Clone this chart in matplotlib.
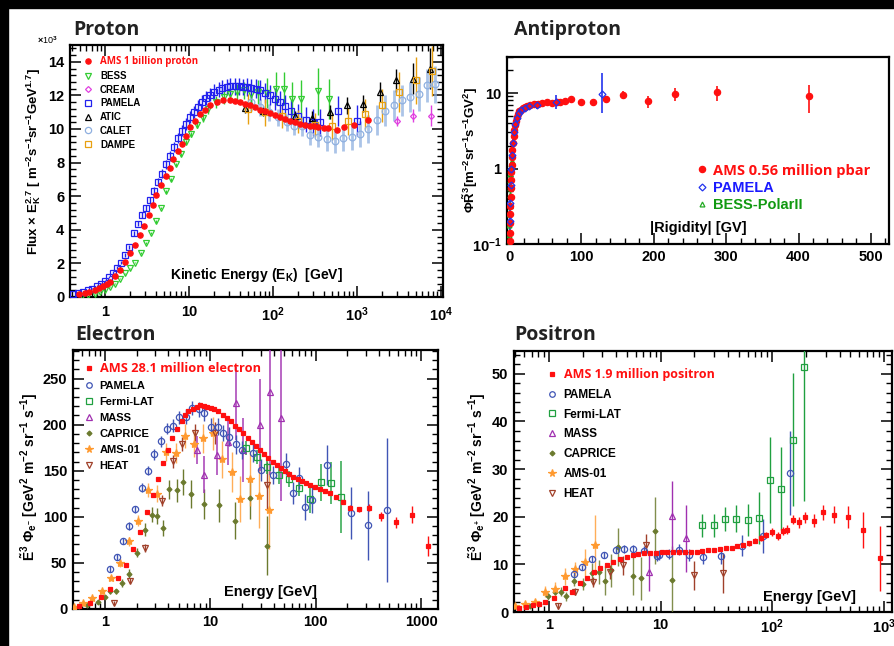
import matplotlib
matplotlib.use("Agg")
import matplotlib.pyplot as plt
from matplotlib.lines import Line2D
from matplotlib.patches import Rectangle
import matplotlib.ticker as mt

plt.rcParams['font.family'] = ['Liberation Sans', 'DejaVu Sans']
plt.rcParams['font.weight'] = 'bold'
plt.rcParams['mathtext.fontset'] = 'custom'
plt.rcParams['mathtext.rm'] = 'Liberation Sans:bold'
plt.rcParams['mathtext.it'] = 'Liberation Sans:bold:italic'
plt.rcParams['mathtext.bf'] = 'Liberation Sans:bold'

TITLE_FONT = ['Open Sans', 'DejaVu Sans']

# ---------------- Proton (flux x E^2.7, in units of 1e3) ----------------
p_ams_e = [0.49, 0.57, 0.65, 0.75, 0.85, 0.95, 1.05, 1.15, 1.3, 1.5, 1.73, 1.98, 2.27, 2.6, 2.94,
           3.37, 3.7, 4.1, 4.68, 5.27, 5.95, 6.5, 7.4, 8.2, 9.2, 10.3, 11.8, 13.5, 15.5, 17.8,
           21.3, 25.6, 30.6, 35, 40, 46, 53, 61, 70, 80, 92, 106, 121, 140, 160, 185, 210, 240,
           275, 310, 345, 400, 457, 570, 700, 920, 1370]
p_ams_v = [0.16, 0.22, 0.3, 0.42, 0.55, 0.68, 0.8, 0.92, 1.23, 1.6, 2.1, 2.6, 3.1, 3.7, 4.2,
           4.9, 5.5, 6.1, 6.67, 7.23, 7.7, 8.2, 8.7, 9.1, 9.6, 10.1, 10.5, 10.9, 11.15, 11.4,
           11.6, 11.7, 11.7, 11.68, 11.6, 11.5, 11.4, 11.28, 11.15, 11.05, 10.95, 10.82, 10.7,
           10.6, 10.5, 10.4, 10.3, 10.25, 10.2, 10.15, 10.1, 10.05, 10.05, 9.96, 10.1, 10.25, 10.55]

p_pam_e = [0.42, 0.48, 0.55, 0.62, 0.7, 0.8, 0.9, 1.0, 1.12, 1.25, 1.4, 1.56, 1.75, 1.95, 2.2,
           2.45, 2.75, 3.05, 3.4, 3.8, 4.25, 4.75, 5.3, 5.9, 6.6, 7.4, 8.2, 9.2, 10.3, 11.5, 12.9,
           14.4, 16.1, 18, 20, 22.5, 25, 28, 31, 35, 39, 44, 49, 55, 62, 70, 80, 92, 105, 120,
           140, 165, 200, 245, 300, 360, 600, 1000]
p_pam_v = [0.18, 0.24, 0.31, 0.4, 0.5, 0.65, 0.8, 0.95, 1.2, 1.45, 1.75, 2.05, 2.5, 3.0, 3.8,
           4.35, 4.9, 5.3, 5.75, 6.3, 6.85, 7.35, 7.9, 8.4, 8.95, 9.45, 9.9, 10.3, 10.7, 11.0,
           11.3, 11.6, 11.85, 12.05, 12.2, 12.35, 12.45, 12.5, 12.55, 12.55, 12.55, 12.5, 12.5,
           12.45, 12.4, 12.3, 12.15, 12.0, 11.8, 11.6, 11.35, 11.05, 10.8, 10.55, 10.4, 10.4,
           11.05, 10.5]
p_pam_err = [0.02, 0.02, 0.03, 0.03, 0.04, 0.05, 0.05, 0.06, 0.07, 0.08, 0.1, 0.1, 0.1, 0.12,
             0.15, 0.15, 0.17, 0.2, 0.2, 0.22, 0.25, 0.25, 0.27, 0.3, 0.3, 0.3, 0.32, 0.35, 0.35,
             0.35, 0.4, 0.4, 0.4, 0.4, 0.45, 0.45, 0.45, 0.45, 0.5, 0.5, 0.5, 0.5, 0.55, 0.55,
             0.55, 0.6, 0.6, 0.6, 0.65, 0.65, 0.7, 0.7, 0.7, 0.75, 0.8, 0.8, 0.9, 0.9]

p_bess_e = [0.53, 0.63, 0.75, 0.87, 1.0, 1.15, 1.32, 1.52, 1.75, 2.0, 2.3, 2.65, 3.05, 3.5, 4.0,
            4.6, 5.3, 6.1, 7.0, 8.0, 9.2, 10.6, 12.3, 14.5, 17, 21, 26, 31, 37, 45, 54, 66, 84,
            108, 136, 170, 215, 340, 460]
p_bess_v = [0.05, 0.12, 0.2, 0.3, 0.42, 0.6, 0.8, 1.1, 1.4, 1.7, 2.05, 2.6, 3.2, 3.8, 4.5, 5.3,
            6.3, 7.0, 7.9, 8.5, 9.2, 9.7, 10.25, 10.65, 11.2, 11.6, 11.9, 12.1, 12.2, 12.3, 12.1,
            12.2, 12.15, 12.4, 12.4, 11.8, 11.8, 12.25, 11.8]
p_bess_err = [0.02, 0.02, 0.02, 0.03, 0.03, 0.03, 0.04, 0.04, 0.05, 0.05, 0.05, 0.06, 0.06, 0.07,
              0.08, 0.08, 0.09, 0.1, 0.1, 0.1, 0.12, 0.15, 0.2, 0.25, 0.3, 0.35, 0.4, 0.4, 0.45,
              0.5, 0.6, 0.7, 0.9, 1.0, 1.0, 1.0, 1.1, 1.4, 1.2]

p_cream_e = [3000, 4700, 7600]
p_cream_v = [10.45, 10.8, 10.8]
p_cream_err = [0.3, 0.4, 0.6]

p_atic_e = [47, 76, 185, 295, 480, 755, 1190, 1880, 2950, 4650, 7300]
p_atic_v = [11.25, 11.05, 10.8, 10.65, 11.0, 11.4, 11.5, 12.2, 12.9, 13.0, 13.6]
p_atic_err = [0.3, 0.3, 0.3, 0.4, 0.4, 0.5, 0.5, 0.6, 0.7, 0.9, 1.2]

p_calet_e = [55, 70, 90, 115, 145, 180, 220, 275, 345, 435, 545, 685, 860, 1085, 1370, 1730,
             2170, 2720, 3400, 4300, 5400, 6800, 8500]
p_calet_v = [11.6, 11.3, 11.0, 10.7, 10.4, 10.2, 10.2, 9.65, 9.55, 9.4, 9.3, 9.45, 9.55, 9.7,
             10.0, 10.55, 11.1, 11.4, 11.7, 11.9, 12.1, 12.6, 12.65]
p_calet_err = [0.5, 0.5, 0.5, 0.5, 0.5, 0.55, 0.6, 0.6, 0.65, 0.7, 0.7, 0.75, 0.8, 0.8, 0.85,
               0.9, 0.9, 0.9, 0.9, 0.9, 1.0, 1.0, 1.1]

p_dampe_e = [50, 80, 127, 200, 315, 500, 790, 1260, 2000, 3160, 5000, 7900]
p_dampe_v = [11.2, 11.0, 10.75, 10.45, 10.25, 10.15, 10.45, 10.9, 11.4, 12.2, 12.9, 13.45]
p_dampe_err = [0.9, 0.8, 0.7, 0.7, 0.7, 0.8, 0.8, 0.9, 1.0, 1.2, 1.4, 1.5]

p_xticks = [1, 10, 100, 1000, 10000]
p_xlabels = ['1', '10', '$10^2$', '$10^3$', '$10^4$']

# ---------------- Antiproton ----------------
ap_ams_r = [1.1, 1.3, 1.5, 1.7, 1.9, 2.2, 2.5, 2.8, 3.2, 3.6, 4.1, 4.7, 5.4, 6.2, 7.1, 8.2, 9.4,
            10.8, 12.4, 14.3, 16.5, 19, 22, 25.5, 29.5, 34, 39.5, 45.5, 52.5, 60, 66, 71, 77, 86,
            99, 116, 134, 158, 192, 230, 287, 414]
ap_ams_v = [0.11, 0.14, 0.19, 0.25, 0.32, 0.42, 0.55, 0.7, 0.9, 1.1, 1.4, 1.75, 2.2, 2.7, 3.2,
            3.8, 4.3, 4.8, 5.3, 5.7, 6.0, 6.3, 6.6, 6.8, 7.0, 7.1, 7.2, 7.3, 7.5, 7.3, 7.6, 7.7,
            7.8, 8.3, 7.6, 7.6, 8.3, 9.5, 7.8, 9.7, 10.2, 9.1]
ap_ams_err = [0.01, 0.01, 0.02, 0.02, 0.02, 0.03, 0.03, 0.04, 0.05, 0.05, 0.06, 0.07, 0.08, 0.1,
              0.1, 0.12, 0.13, 0.14, 0.15, 0.15, 0.16, 0.17, 0.18, 0.2, 0.2, 0.22, 0.25, 0.3,
              0.3, 0.35, 0.4, 0.4, 0.45, 0.5, 0.5, 0.6, 0.9, 1.0, 1.4, 1.8, 2.3, 3.7]

ap_pam_r = [1.5, 2, 2.6, 3.3, 4.2, 5.3, 6.7, 8.5, 10.7, 13.5, 17, 22, 28, 38, 65, 129]
ap_pam_v = [0.2, 0.35, 0.6, 1.0, 1.5, 2.2, 3.0, 3.9, 4.7, 5.4, 5.9, 6.3, 6.7, 7.0, 7.5, 9.8]
ap_pam_lo = [0.05, 0.08, 0.1, 0.15, 0.2, 0.25, 0.3, 0.35, 0.4, 0.45, 0.5, 0.55, 0.6, 0.9, 1.3, 4.3]
ap_pam_hi = [0.05, 0.08, 0.1, 0.15, 0.2, 0.25, 0.3, 0.35, 0.4, 0.45, 0.5, 0.55, 0.6, 0.9, 1.9, 8.5]

ap_bess_r = [0.2, 0.3, 0.4, 0.55, 0.7, 0.9, 1.1, 1.4, 1.8, 2.3, 3.0, 3.8]
ap_bess_v = [0.1, 0.13, 0.18, 0.25, 0.33, 0.45, 0.55, 0.7, 0.85, 1.0, 1.15, 1.25]
ap_bess_err = [0.02, 0.02, 0.03, 0.04, 0.05, 0.06, 0.07, 0.08, 0.1, 0.12, 0.15, 0.18]

# ---------------- Electron ----------------
e_ams_e = [0.57, 0.72, 0.92, 1.12, 1.34, 1.6, 1.86, 2.15, 2.49, 2.84, 3.2, 3.57, 3.93, 4.35, 4.79,
           5.33, 5.74, 6.2, 6.8, 7.4, 7.97, 8.7, 9.35, 10.05, 10.8, 11.9, 13.1, 14.3, 15.7, 17.1,
           18.8, 20.5, 22.6, 24.8, 27.1, 29.7, 32.4, 35.5, 39, 42.6, 46.8, 51.4, 56.2, 61.5,
           67.5, 74, 81, 88.5, 99, 110, 122, 136, 155, 180, 211, 258, 320, 420, 575, 830, 1160]
e_ams_v = [3.6, 6.5, 12.7, 21.7, 33.7, 48, 65.6, 84, 105, 124, 141, 158, 173, 186, 195, 204, 210,
           215, 217, 219.5, 221, 220, 219.5, 218.5, 216.7, 214.5, 211, 207.6, 204, 199, 195,
           190.6, 186, 181.5, 176.8, 172, 167.8, 163.4, 159.4, 155.8, 152.5, 149.3, 146.4, 143.5,
           141.3, 139, 137, 135, 132.6, 129.7, 127.9, 126, 121.7, 116, 110, 108, 109.8, 100.7,
           94.2, 102.5, 68]
e_ams_err = [0.3, 0.4, 0.5, 0.6, 0.8, 1, 1, 1, 1.2, 1.2, 1.5, 1.5, 1.5, 1.5, 1.5, 1.5, 1.5,
             2, 2, 2, 2, 2, 2, 2, 2, 2, 2, 2, 2, 2, 2, 2, 2, 2, 2, 2, 2,
             2, 2, 2, 2, 2, 2, 2, 2, 2, 2, 2, 2, 2, 2,
             2.5, 2.5, 2.5, 3, 3, 4, 5, 6, 9, 11]

e_pam_e = [1.12, 1.29, 1.49, 1.7, 1.94, 2.23, 2.58, 2.92, 3.37, 3.85, 4.38, 5.07, 5.82, 6.69, 7.74,
           8.77, 10.05, 11.7, 13.2, 15.1, 17.5, 20.2, 25.6, 30.3, 39.6, 52, 60.5, 70, 80, 91.5,
           127, 215, 313, 480]
e_pam_v = [43.5, 56.5, 73.5, 90, 108, 131.5, 150, 168, 182, 195.6, 199, 208, 208.7, 218, 216.7,
           212.3, 198, 198, 191, 187, 178.6, 172.5, 169, 150.4, 145.3, 157.6, 126, 142.4, 110.5,
           118.8, 156, 104, 90.6, 107]
e_pam_err = [3, 3, 3, 4, 4, 5, 5, 6, 6, 6, 7, 7, 8, 8, 8, 8, 9, 9, 9, 10, 10, 10, 10, 12, 10, 12,
             12, 12, 14, 15, 22, 28, 37, 78]

e_fermi_e = [22, 27.5, 34.8, 45, 56, 70, 88, 112, 140, 175]
e_fermi_v = [174.6, 165, 154, 145, 141, 131.5, 119, 137.7, 137, 121.7]
e_fermi_err = [8, 8, 8, 9, 9, 9, 15, 20, 23, 39]

e_mass_e = [7.5, 8.8, 11.6, 14.8, 17.6, 20.4, 29.9, 37, 46.5]
e_mass_v = [172.5, 145.7, 167, 181.5, 223, 172.5, 200, 235.5, 207]
e_mass_err = [15, 20, 22, 25, 40, 35, 50, 90, 90]

e_cap_e = [0.57, 0.68, 0.85, 0.99, 1.12, 1.27, 1.44, 1.7, 2.03, 2.38, 2.77, 3.14, 3.53, 4.02,
           4.79, 5.47, 6.5, 8.7, 12.1, 17.1, 23.6, 34.2]
e_cap_v = [3, 4.3, 7.2, 12.7, 19.2, 19.2, 28.3, 38.4, 61, 86.2, 102.5, 100.7, 88, 129.7, 128.6,
           137.7, 125, 114, 112.7, 96, 120.3, 68.8]
e_cap_err = [1, 1, 1.5, 2, 3, 3, 4, 5, 5, 7, 8, 9, 9, 10, 12, 14, 15, 16, 18, 20, 23, 32]

e_ams01_e = [0.51, 0.62, 0.75, 0.93, 1.14, 1.39, 1.69, 2.07, 2.54, 3.14, 3.8, 4.69, 5.75, 7.0,
             8.6, 10.6, 12.9, 15.9, 19.3, 23.6, 28.7, 35.8]
e_ams01_v = [2, 6, 12, 19.2, 34, 50, 73.5, 96, 129, 125, 170.6, 169.6, 187.7, 179.3, 185, 190.6,
             162.3, 148.5, 119.6, 141.3, 122.5, 107.2]
e_ams01_err = [1, 1.5, 2, 2.5, 3, 4, 5, 6, 8, 9, 10, 11, 13, 14, 16, 18, 20, 22, 25, 30, 35, 42]

e_heat_e = [1.22, 1.73, 2.42, 3.45, 4.42, 5.42, 7.16, 11, 34.2]
e_heat_v = [6.2, 30.8, 66.3, 117.7, 160.5, 179, 191.3, 190.6, 134]
e_heat_err = [2, 3, 4, 6, 7, 8, 9, 12, 25]

e_xticks = [1, 10, 100, 1000]
e_xlabels = ['1', '10', '100', '1000']

# ---------------- Positron ----------------
ps_ams_e = [0.54, 0.62, 0.72, 0.82, 0.92, 1.12, 1.39, 1.61, 1.9, 2.2, 2.53, 2.86, 3.28, 3.77,
            4.33, 4.97, 5.61, 6.3, 7.1, 8.0, 9.1, 10.2, 11.5, 13.0, 14.7, 16.5, 18.6, 21, 23.6,
            26.7, 30, 34, 38.4, 43.3, 48.7, 55, 62, 70, 78.6, 88, 100, 113, 125, 136, 152, 172,
            198, 236, 286, 358, 474, 650, 925]
ps_ams_v = [0.77, 1.1, 1.4, 1.7, 2.0, 2.9, 5.0, 4.3, 6.1, 7.1, 8.3, 9.2, 9.8, 10.5, 11.1, 11.5,
            11.9, 12.2, 12.4, 12.4, 12.4, 12.5, 12.5, 12.5, 12.5, 12.5, 12.7, 12.7, 12.8, 13.0,
            13.1, 13.2, 13.4, 13.5, 13.8, 14.1, 14.4, 15.0, 15.5, 16.2, 16.8, 15.9, 17.0, 17.3,
            19.4, 18.8, 19.9, 19.2, 20.9, 20.4, 19.9, 17.2, 11.3]
ps_ams_err = [0.1, 0.1, 0.1, 0.1, 0.1, 0.15, 0.15, 0.15, 0.15, 0.2, 0.2, 0.2, 0.2, 0.2, 0.2,
              0.2, 0.2, 0.2, 0.2, 0.2, 0.2, 0.2, 0.2, 0.2, 0.25, 0.25, 0.25, 0.25, 0.3, 0.3,
              0.3, 0.3, 0.35, 0.35, 0.4, 0.4, 0.45, 0.5, 0.6, 0.7, 0.8, 0.8, 0.9, 1.0, 1.0,
              1.1, 1.2, 1.3, 1.5, 1.8, 2.3, 3.8, 6.8]

ps_pam_e = [1.67, 1.96, 2.41, 3.1, 3.95, 4.72, 5.6, 7.1, 9.2, 9.6, 11.8, 14.5, 17.8, 24.1, 35,
            53.5, 83, 145]
ps_pam_v = [8.05, 9.4, 11.1, 12, 13.1, 13.2, 13.2, 12.9, 11.8, 12, 12.2, 13.1, 12, 11.5, 11.8,
            13.9, 15.9, 29.2]
ps_pam_err = [0.4, 0.5, 0.6, 0.7, 0.8, 0.8, 0.9, 1.0, 1.0, 1.0, 1.1, 1.2, 1.3, 1.5, 1.8, 2.2,
              3.6, 8.8]

ps_fermi_e = [23.6, 30, 37.8, 47.4, 60, 76, 96, 120, 153, 194]
ps_fermi_v = [18.2, 18.2, 19.6, 19.6, 19.3, 19.8, 27.7, 25.9, 36.2, 51.4]
ps_fermi_err = [2.4, 2.4, 2.5, 2.9, 3.3, 5.5, 9, 8.7, 14, 28]

ps_mass_e = [7.8, 12.6, 16.7]
ps_mass_v = [8.5, 20.2, 15.5]
ps_mass_err = [4, 7.3, 7]

ps_cap_e = [0.68, 0.82, 0.97, 1.14, 1.27, 1.42, 1.67, 2.03, 2.44, 2.8, 3.2, 3.57, 4.12, 5.7,
            6.66, 8.9, 12.6]
ps_cap_v = [1.3, 1.75, 3.3, 4.3, 4.3, 3.3, 6.6, 5.9, 8.2, 8.4, 6.6, 8.75, 13.6, 7.5, 7.1, 17.1,
            6.8]
ps_cap_err = [0.4, 0.5, 0.7, 0.8, 0.9, 0.9, 1.2, 1.3, 2, 2.5, 3, 3.5, 4, 4, 4.5, 7, 7]

ps_ams01_e = [0.5, 0.61, 0.75, 0.93, 1.13, 1.39, 1.72, 2.1, 2.58]
ps_ams01_v = [1.2, 1.7, 2.1, 4.3, 4.8, 7.5, 9.1, 10.4, 14.1]
ps_ams01_err = [0.5, 0.6, 0.7, 1.2, 1.5, 1.8, 1.5, 2.8, 6.3]

ps_heat_e = [1.2, 1.72, 2.46, 3.52, 4.57, 7.4, 20, 36.5]
ps_heat_v = [1.2, 4.3, 6.3, 8.4, 9.8, 14.1, 7.7, 8.2]
ps_heat_err = [0.6, 0.8, 1, 1.5, 2, 2.2, 3, 4.2]

ps_xticks = [1, 10, 100, 1000]
ps_xlabels = ['1', '10', '$10^2$', '$10^3$']

RED = '#ff1010'


def pts(ax, x, y, err, color, marker, ms, filled=False, elw=1.0, ecolor=None, ealpha=1.0, z=3):
    ax.errorbar(x, y, yerr=err, fmt='none', ecolor=ecolor or color, elinewidth=elw,
                capsize=0, alpha=ealpha, zorder=z)
    ax.plot(x, y, ls='none', marker=marker, ms=ms, color=color,
            mfc=color if filled else 'none', mec=color, mew=0.9, zorder=z + 0.5)


def handle(color, marker, ms, filled=False):
    return Line2D([], [], ls='none', marker=marker, ms=ms, color=color,
                  mfc=color if filled else 'none', mec=color, mew=0.9)


def frame(ax, both=True):
    for s in ax.spines.values():
        s.set_linewidth(1.6)
    ax.tick_params(which='both', direction='in', top=both, right=both, labelsize=10.5, pad=4)
    ax.tick_params(which='major', length=8, width=1.1)
    ax.tick_params(which='minor', length=4, width=1.0)


def legend(ax, handles, labels, anchor, fs, amsfs, spacing, hl, pad):
    leg = ax.legend(handles, labels, loc='upper left', bbox_to_anchor=anchor, frameon=False,
                    fontsize=fs, labelspacing=spacing, handlelength=hl, handletextpad=pad,
                    borderpad=0, borderaxespad=0)
    t = leg.get_texts()[0]
    t.set_color(RED)
    t.set_fontsize(amsfs)
    t.set_family(TITLE_FONT)
    t.set_weight('bold')
    return leg


fig = plt.figure(figsize=(8.94, 6.46), dpi=100)
fig.patches.append(Rectangle((0, 1 - 8 / 646), 1, 8 / 646, transform=fig.transFigure,
                             color='black', zorder=10))
fig.patches.append(Rectangle((0, 0), 8 / 894, 1, transform=fig.transFigure,
                             color='black', zorder=10))

# ---------- Proton panel ----------
ax = fig.add_axes([70 / 894, 1 - 297 / 646, 373 / 894, 252 / 646])
ax.set_xscale('log')
ax.set_xlim(0.383, 10560)
ax.set_ylim(0, 15.0)
pts(ax, p_calet_e, p_calet_v, p_calet_err, '#8fb0e0', 'o', 4.8, elw=2.0, ealpha=0.75)
pts(ax, p_bess_e, p_bess_v, p_bess_err, '#33cc33', 'v', 4.8)
pts(ax, p_pam_e, p_pam_v, p_pam_err, '#2222ee', 's', 5)
pts(ax, p_atic_e, p_atic_v, p_atic_err, 'black', '^', 4.8)
pts(ax, p_dampe_e, p_dampe_v, p_dampe_err, '#e8a010', 's', 5)
pts(ax, p_cream_e, p_cream_v, p_cream_err, '#e040e0', 'D', 3)
pts(ax, p_ams_e, p_ams_v, 0, RED, 'o', 3.8, filled=True, z=5)
frame(ax)
ax.set_xticks(p_xticks)
ax.set_xticklabels(p_xlabels)
ax.xaxis.set_minor_locator(mt.LogLocator(base=10, subs=range(2, 10), numticks=20))
ax.xaxis.set_minor_formatter(mt.NullFormatter())
ax.yaxis.set_major_locator(mt.MultipleLocator(2))
ax.yaxis.set_minor_locator(mt.MultipleLocator(0.4))
ax.tick_params(axis='x', pad=6)
ax.text(0.5, 0.087, 'Kinetic Energy (E$_\\mathrm{K}$)  [GeV]', transform=ax.transAxes,
        ha='center', va='center', fontsize=10)
ax.text(-0.098, 0.536, 'Flux $\\times$ E$_\\mathrm{K}^{2.7}$ [ m$^{-2}$s$^{-1}$sr$^{-1}$GeV$^{1.7}$]',
        transform=ax.transAxes, rotation=90, ha='center', va='center', fontsize=9.5)
fig.text(37 / 894, 1 - 40 / 646, '$\\times$10$^3$', fontsize=6.5, weight='normal',
         va='center', ha='left')
legend(ax,
       [handle(RED, 'o', 3.8, True), handle('#33cc33', 'v', 4.5), handle('#e040e0', 'D', 3),
        handle('#2222ee', 's', 4.5), handle('black', '^', 4.5), handle('#8fb0e0', 'o', 4.5),
        handle('#e8a010', 's', 4.5)],
       ['AMS 1 billion proton', 'BESS', 'CREAM', 'PAMELA', 'ATIC', 'CALET', 'DAMPE'],
       (0.035, 0.955), 7, 7, 0.38, 1.0, 0.75)
fig.text(73 / 894, 1 - 30 / 646, 'Proton', fontsize=14, family=TITLE_FONT, weight='bold',
         va='center', ha='left', color='#222222')

# ---------- Antiproton panel ----------
ax = fig.add_axes([507 / 894, 1 - 244 / 646, 382 / 894, 187 / 646])
ax.set_yscale('log')
ax.set_xlim(-2.8, 525)
ax.set_ylim(0.1, 30)
pts(ax, ap_bess_r, ap_bess_v, ap_bess_err, '#22aa22', '^', 3.5)
ax.errorbar(ap_pam_r, ap_pam_v, yerr=[ap_pam_lo, ap_pam_hi], fmt='none', ecolor='#2233ee',
            elinewidth=1.2, capsize=0, zorder=3)
ax.plot(ap_pam_r, ap_pam_v, ls='none', marker='D', ms=3.5, mfc='none', mec='#2233ee',
        mew=0.9, zorder=4)
pts(ax, ap_ams_r, ap_ams_v, ap_ams_err, RED, 'o', 4.5, filled=True, elw=1.2, z=3.2)
frame(ax, both=False)
ax.xaxis.set_major_locator(mt.MultipleLocator(100))
ax.xaxis.set_minor_locator(mt.MultipleLocator(20))
ax.set_yticks([0.1, 1, 10])
ax.set_yticklabels(['$10^{-1}$', '1', '10'])
ax.yaxis.set_minor_locator(mt.LogLocator(base=10, subs=range(2, 10), numticks=20))
ax.yaxis.set_minor_formatter(mt.NullFormatter())
ax.text(0.5, 0.086, '|Rigidity| [GV]', transform=ax.transAxes, ha='center', va='center',
        fontsize=10.5)
ax.text(-0.097, 0.503, '$\\Phi\\tilde{\\mathrm{R}}^{3}$[m$^{-2}$sr$^{-1}$s$^{-1}$GV$^{2}$]',
        transform=ax.transAxes, rotation=90, ha='center', va='center', fontsize=9.5)
leg = legend(ax,
             [handle(RED, 'o', 4.5, True), handle('#2233ee', 'D', 3.5),
              handle('#22aa22', '^', 3.5)],
             ['AMS 0.56 million pbar', 'PAMELA', 'BESS-PolarII'],
             (0.497, 0.43), 10.5, 10.5, 0.22, 0.7, 0.4)
leg.get_texts()[1].set_color('#1a1aff')
leg.get_texts()[2].set_color('#119911')
fig.text(514 / 894, 1 - 30 / 646, 'Antiproton', fontsize=14, family=TITLE_FONT, weight='bold',
         va='center', ha='left', color='#222222')

# ---------- Electron panel ----------
ax = fig.add_axes([73 / 894, 1 - 609 / 646, 365 / 894, 259 / 646])
ax.set_xscale('log')
ax.set_xlim(0.497, 1450)
ax.set_ylim(0, 281)
pts(ax, e_cap_e, e_cap_v, e_cap_err, '#6b7a2e', 'D', 2.5, filled=True)
pts(ax, e_ams01_e, e_ams01_v, e_ams01_err, '#ff9a30', '*', 6, filled=True, ealpha=0.8)
pts(ax, e_heat_e, e_heat_v, e_heat_err, '#a0402a', 'v', 4)
pts(ax, e_mass_e, e_mass_v, e_mass_err, '#a030b0', '^', 4, elw=1.3, ealpha=0.8)
pts(ax, e_fermi_e, e_fermi_v, e_fermi_err, '#20a040', 's', 4.5, elw=1.3, ealpha=0.8)
pts(ax, e_pam_e, e_pam_v, e_pam_err, '#4055b5', 'o', 4.5)
pts(ax, e_ams_e, e_ams_v, e_ams_err, RED, 's', 2.4, filled=True, z=5)
frame(ax)
ax.set_xticks(e_xticks)
ax.set_xticklabels(e_xlabels)
ax.xaxis.set_minor_locator(mt.LogLocator(base=10, subs=range(2, 10), numticks=20))
ax.xaxis.set_minor_formatter(mt.NullFormatter())
ax.yaxis.set_major_locator(mt.MultipleLocator(50))
ax.yaxis.set_minor_locator(mt.MultipleLocator(10))
ax.text(0.54, 0.066, 'Energy [GeV]', transform=ax.transAxes, ha='center', va='center',
        fontsize=10.5)
ax.text(-0.118, 0.51, '$\\tilde{\\mathrm{E}}^{3}\\ \\Phi_{\\mathrm{e}^{-}}$ [GeV$^{2}$ m$^{-2}$ sr$^{-1}$ s$^{-1}$]',
        transform=ax.transAxes, rotation=90, ha='center', va='center', fontsize=10)
legend(ax,
       [handle(RED, 's', 2.4, True), handle('#4055b5', 'o', 4), handle('#20a040', 's', 4),
        handle('#a030b0', '^', 4), handle('#6b7a2e', 'D', 2.5, True),
        handle('#ff9a30', '*', 5.5, True), handle('#a0402a', 'v', 4)],
       ['AMS 28.1 million electron', 'PAMELA', 'Fermi-LAT', 'MASS', 'CAPRICE', 'AMS-01', 'HEAT'],
       (0.032, 0.955), 8, 9.2, 0.55, 0.8, 0.55)
fig.text(75 / 894, 1 - 335 / 646, 'Electron', fontsize=14, family=TITLE_FONT, weight='bold',
         va='center', ha='left', color='#222222')

# ---------- Positron panel ----------
ax = fig.add_axes([514 / 894, 1 - 612 / 646, 378 / 894, 261 / 646])
ax.set_xscale('log')
ax.set_xlim(0.486, 1180)
ax.set_ylim(0, 54.8)
pts(ax, ps_cap_e, ps_cap_v, ps_cap_err, '#6b7a2e', 'D', 2.5, filled=True, ealpha=0.85)
pts(ax, ps_ams01_e, ps_ams01_v, ps_ams01_err, '#ff9a30', '*', 6, filled=True, ealpha=0.8)
pts(ax, ps_heat_e, ps_heat_v, ps_heat_err, '#a0402a', 'v', 4)
pts(ax, ps_mass_e, ps_mass_v, ps_mass_err, '#a030b0', '^', 4)
pts(ax, ps_fermi_e, ps_fermi_v, ps_fermi_err, '#20a040', 's', 4.5)
pts(ax, ps_pam_e, ps_pam_v, ps_pam_err, '#4055b5', 'o', 4.5)
pts(ax, ps_ams_e, ps_ams_v, ps_ams_err, RED, 's', 2.4, filled=True, z=5)
frame(ax)
ax.set_xticks(ps_xticks)
ax.set_xticklabels(ps_xlabels)
ax.xaxis.set_minor_locator(mt.LogLocator(base=10, subs=range(2, 10), numticks=20))
ax.xaxis.set_minor_formatter(mt.NullFormatter())
ax.yaxis.set_major_locator(mt.MultipleLocator(10))
ax.yaxis.set_minor_locator(mt.MultipleLocator(2))
ax.text(0.783, 0.057, 'Energy [GeV]', transform=ax.transAxes, ha='center', va='center',
        fontsize=10.5)
ax.text(-0.098, 0.517, '$\\tilde{\\mathrm{E}}^{3}\\ \\Phi_{\\mathrm{e}^{+}}$ [GeV$^{2}$ m$^{-2}$ sr$^{-1}$ s$^{-1}$]',
        transform=ax.transAxes, rotation=90, ha='center', va='center', fontsize=10)
legend(ax,
       [handle(RED, 's', 2.4, True), handle('#4055b5', 'o', 4), handle('#20a040', 's', 4),
        handle('#a030b0', '^', 4), handle('#6b7a2e', 'D', 2.5, True),
        handle('#ff9a30', '*', 5.5, True), handle('#a0402a', 'v', 4)],
       ['AMS 1.9 million positron', 'PAMELA', 'Fermi-LAT', 'MASS', 'CAPRICE', 'AMS-01', 'HEAT'],
       (0.089, 0.935), 8.5, 9.0, 0.66, 0.8, 0.55)
fig.text(514 / 894, 1 - 335 / 646, 'Positron', fontsize=14, family=TITLE_FONT, weight='bold',
         va='center', ha='left', color='#222222')

fig.savefig('out.png', dpi=100, facecolor='white')
